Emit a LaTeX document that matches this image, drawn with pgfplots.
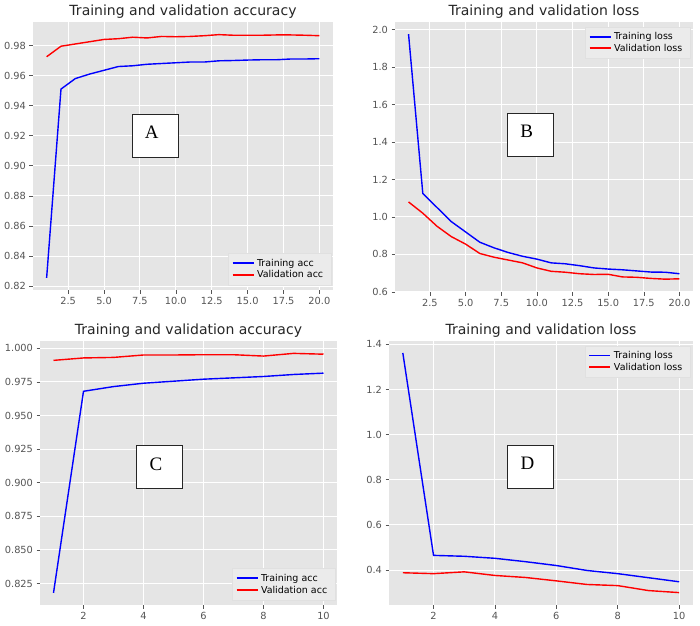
\documentclass[border=0pt]{standalone}
\usepackage{pgfplots}
\pgfplotsset{compat=1.18}
\usepackage{fontspec}
\setmainfont{DejaVu Sans}
\newfontfamily\seriffont{Liberation Serif}
\definecolor{ggbg}{HTML}{E5E5E5}
\definecolor{ticklab}{HTML}{555555}
\definecolor{legfill}{HTML}{EBEBEB}
\definecolor{mplblue}{HTML}{0000FF}
\definecolor{mplred}{HTML}{FF0000}
\pgfplotsset{gg/.style={
  scale only axis,
  axis background/.style={fill=ggbg},
  axis line style={draw=none},
  grid=major,
  major grid style={white, line width=0.9pt},
  tick align=outside,
  xtick pos=bottom, ytick pos=left,
  major tick length=3.5pt,
  tick style={color=ticklab, line width=0.6pt},
  tick label style={font=\fontsize{9.8}{11}\selectfont, text=ticklab},
  title style={font=\fontsize{14}{16}\selectfont, text=black!85, at={(0.5,1)}, anchor=base, yshift=1pt},
  legend style={font=\fontsize{9.5}{11}\selectfont, fill=legfill, draw=black!12, row sep=-1pt, inner ysep=3.5pt, inner xsep=4pt, nodes={inner xsep=3.5pt}},
  legend cell align=left,
  every axis plot/.append style={line width=1.4pt, no markers},
  legblue/.style={legend image code/.code={\node[inner sep=0pt, anchor=west] at (0pt,0pt) {\textcolor{mplblue}{\rule[-0.9pt]{21pt}{1.8pt}}};}},
  legred/.style={legend image code/.code={\node[inner sep=0pt, anchor=west] at (0pt,0pt) {\textcolor{mplred}{\rule[-0.9pt]{21pt}{1.8pt}}};}},
}}
\tikzset{lbox/.style={draw=black!85, fill=white, line width=0.8pt, minimum width=46pt, minimum height=43pt, inner sep=0pt},
  lletter/.style={font=\seriffont\fontsize{19}{20}\selectfont, inner sep=0pt, xshift=-3.5pt, yshift=3.5pt}}
\begin{document}
\begin{tikzpicture}
\useasboundingbox (0pt,0pt) rectangle (700pt,-625pt);
% ---------- A ----------
\begin{axis}[gg, at={(33pt,-290pt)}, anchor=south west, width=300pt, height=268pt,
  xmin=0.05, xmax=20.95, ymin=0.8174, ymax=0.9956,
  xtick={2.5,5,7.5,10,12.5,15,17.5,20}, xticklabels={2.5,5.0,7.5,10.0,12.5,15.0,17.5,20.0},
  ytick={0.82,0.84,0.86,0.88,0.90,0.92,0.94,0.96,0.98}, yticklabels={0.82,0.84,0.86,0.88,0.90,0.92,0.94,0.96,0.98},
  title={Training and validation accuracy},
  legend style={at={(0.993,0.018)}, anchor=south east}]
\addplot[color=mplblue, legblue] coordinates {(1,0.8255)(2,0.951)(3,0.958)(4,0.961)(5,0.9635)(6,0.966)(7,0.9665)(8,0.9675)(9,0.968)(10,0.9685)(11,0.969)(12,0.969)(13,0.9698)(14,0.970)(15,0.9703)(16,0.9705)(17,0.9705)(18,0.971)(19,0.971)(20,0.9712)};
\addlegendentry{Training acc}
\addplot[color=mplred, legred] coordinates {(1,0.9725)(2,0.9795)(3,0.981)(4,0.9825)(5,0.984)(6,0.9845)(7,0.9855)(8,0.985)(9,0.986)(10,0.9858)(11,0.986)(12,0.9865)(13,0.9872)(14,0.9868)(15,0.9868)(16,0.9868)(17,0.987)(18,0.987)(19,0.9868)(20,0.9865)};
\addlegendentry{Validation acc}
\node[lbox] at (axis cs:8.56,0.920) {};
\node[lletter] at (axis cs:8.56,0.920) {A};
\end{axis}
% ---------- B ----------
\begin{axis}[gg, at={(395pt,-292pt)}, anchor=south west, width=298pt, height=270pt,
  xmin=0.05, xmax=20.95, ymin=0.5995, ymax=2.04,
  xtick={2.5,5,7.5,10,12.5,15,17.5,20}, xticklabels={2.5,5.0,7.5,10.0,12.5,15.0,17.5,20.0},
  ytick={0.6,0.8,1.0,1.2,1.4,1.6,1.8,2.0}, yticklabels={0.6,0.8,1.0,1.2,1.4,1.6,1.8,2.0},
  title={Training and validation loss},
  legend style={at={(0.99,0.982)}, anchor=north east}]
\addplot[color=mplblue, legblue] coordinates {(1,1.975)(2,1.125)(3,1.05)(4,0.975)(5,0.92)(6,0.865)(7,0.835)(8,0.81)(9,0.79)(10,0.775)(11,0.755)(12,0.75)(13,0.74)(14,0.728)(15,0.722)(16,0.718)(17,0.712)(18,0.706)(19,0.705)(20,0.697)};
\addlegendentry{Training loss}
\addplot[color=mplred, legred] coordinates {(1,1.08)(2,1.02)(3,0.95)(4,0.895)(5,0.855)(6,0.805)(7,0.785)(8,0.77)(9,0.755)(10,0.728)(11,0.71)(12,0.705)(13,0.697)(14,0.693)(15,0.694)(16,0.68)(17,0.678)(18,0.672)(19,0.668)(20,0.67)};
\addlegendentry{Validation loss}
\node[lbox] at (axis cs:9.53,1.436) {};
\node[lletter] at (axis cs:9.53,1.436) {B};
\end{axis}
% ---------- C ----------
\begin{axis}[gg, at={(40pt,-605pt)}, anchor=south west, width=297pt, height=264pt,
  xmin=0.55, xmax=10.45, ymin=0.809, ymax=1.0054,
  xtick={2,4,6,8,10}, xticklabels={2,4,6,8,10},
  ytick={0.825,0.850,0.875,0.900,0.925,0.950,0.975,1.000}, yticklabels={0.825,0.850,0.875,0.900,0.925,0.950,0.975,1.000},
  title={Training and validation accuracy},
  legend style={at={(0.993,0.018)}, anchor=south east}]
\addplot[color=mplblue, legblue] coordinates {(1,0.818)(2,0.968)(3,0.9715)(4,0.974)(5,0.9755)(6,0.977)(7,0.978)(8,0.979)(9,0.9805)(10,0.9815)};
\addlegendentry{Training acc}
\addplot[color=mplred, legred] coordinates {(1,0.991)(2,0.9928)(3,0.9932)(4,0.995)(5,0.995)(6,0.9952)(7,0.9952)(8,0.9942)(9,0.9962)(10,0.9956)};
\addlegendentry{Validation acc}
\node[lbox] at (axis cs:4.53,0.9114) {};
\node[lletter] at (axis cs:4.53,0.9114) {C};
\end{axis}
% ---------- D ----------
\begin{axis}[gg, at={(389pt,-605pt)}, anchor=south west, width=304pt, height=264pt,
  xmin=0.55, xmax=10.45, ymin=0.245, ymax=1.415,
  xtick={2,4,6,8,10}, xticklabels={2,4,6,8,10},
  ytick={0.4,0.6,0.8,1.0,1.2,1.4}, yticklabels={0.4,0.6,0.8,1.0,1.2,1.4},
  title={Training and validation loss},
  legend style={at={(0.99,0.982)}, anchor=north east}]
\addplot[color=mplblue, legblue] coordinates {(1,1.362)(2,0.465)(3,0.461)(4,0.452)(5,0.437)(6,0.42)(7,0.398)(8,0.384)(9,0.366)(10,0.348)};
\addlegendentry{Training loss}
\addplot[color=mplred, legred] coordinates {(1,0.388)(2,0.384)(3,0.392)(4,0.376)(5,0.367)(6,0.352)(7,0.336)(8,0.331)(9,0.309)(10,0.30)};
\addlegendentry{Validation loss}
\node[lbox] at (axis cs:5.17,0.858) {};
\node[lletter] at (axis cs:5.17,0.858) {D};
\end{axis}
\end{tikzpicture}
\end{document}
